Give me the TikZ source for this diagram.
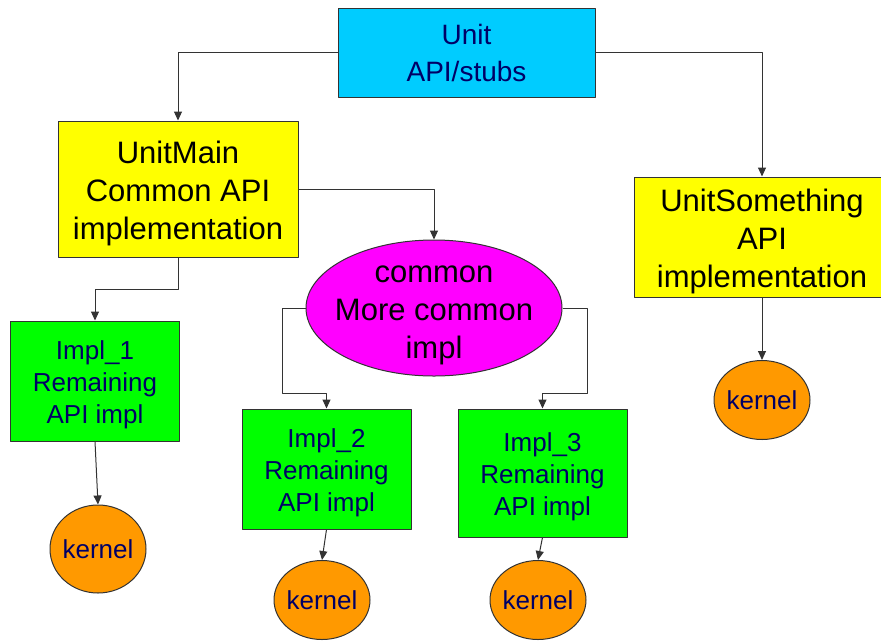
\documentclass[tikz,border=0pt]{standalone}
\usepackage{fontspec}
\setmainfont{Liberation Sans}
\usetikzlibrary{arrows.meta,shapes.geometric}
\definecolor{unitblue}{HTML}{00CCFF}
\definecolor{unityellow}{HTML}{FFFF00}
\definecolor{unitpink}{HTML}{FF00FF}
\definecolor{unitgreen}{HTML}{00FF00}
\definecolor{unitorange}{HTML}{FF9900}
\definecolor{unitnavy}{HTML}{000066}
\tikzset{
	box/.style={draw=black!80, line width=1pt, align=center, inner sep=0pt},
	txt/.style={align=center, inner sep=0pt},
	kern/.style={ellipse, draw=black!80, line width=1pt, fill=unitorange, text=unitnavy, inner xsep=-4pt, inner ysep=0pt, minimum width=96pt, font=\fontsize{26}{30}\selectfont},
	link/.style={draw=black!80, line width=1pt, ->},
}
\begin{document}
\begin{tikzpicture}[x=1pt,y=-1pt,>={Triangle[length=9pt,width=8pt]}, line join=round]
			\useasboundingbox (0,0) rectangle (881,641);
			\path
			(466.5,52.5)coordinate(U)
			(178,189)coordinate(UM)
			(762,237)coordinate(US)
			(434,308)coordinate(C)
			(95,381)coordinate(I1)
			(326.5,469)coordinate(I2)
			(542.5,473)coordinate(I3)
			;
			\node[box, fill=unitblue, text=unitnavy, minimum width=257pt, minimum height=89pt, font=\fontsize{28}{37}\selectfont] (unit) at (U) {Unit\\API/stubs};
			\node[box, fill=unityellow, minimum width=240pt, minimum height=136pt] (unitmain) at (UM) {};
			\node[txt, font=\fontsize{31}{38}\selectfont, yshift=-4pt] (unitmaintxt) at (unitmain) {UnitMain\\Common API\\implementation};
			\node[box, fill=unityellow, minimum width=256pt, minimum height=120pt] (unitsomething) at (US) {};
			\node[txt, font=\fontsize{31}{38}\selectfont, yshift=-4pt] (unitsomethingtxt) at (unitsomething) {UnitSomething\\API\\implementation};
			\node[ellipse, draw=black!80, line width=1pt, fill=unitpink, minimum width=256pt, minimum height=136pt] (common) at (C) {};
			\node[txt, font=\fontsize{31}{38}\selectfont, yshift=-7pt] (commontxt) at (common) {common\\More common\\impl};
			\foreach \n/\p/\h in {impl1/I1/120, impl2/I2/120, impl3/I3/128}
			\node[box, fill=unitgreen, minimum width=169pt, minimum height=\h pt] (\n) at (\p) {};
			\foreach \n/\t in {impl1/Impl\_1, impl2/Impl\_2, impl3/Impl\_3}
			\node[txt, text=unitnavy, font=\fontsize{26}{32}\selectfont, yshift=-4pt] (\n txt) at (\n) {\t\\Remaining\\API impl};
			\foreach \n/\x/\y/\h in {kernel1/98/549/88, kernel2/322/600/79, kernel3/538/600/79, kernel4/762/400/79}
			\node[kern, minimum height=\h pt] (\n) at (\x,\y) {kernel};
			% connectors
			\draw[link] (unit.west) -| (unitmain.north);
			\draw[link] (unit.east) -| (unitsomething.north);
			\draw[link] (unitmain.east) -| (common.north);
			\draw[link] (unitmain.south) -- ++(0,32) -| (impl1.north);
			\draw[link] (common.west) -- ++(-23,0) -- ++(0,85) -| (impl2.north);
			\draw[link] (common.east) -- ++(25,0) -- ++(0,85) -| (impl3.north);
			\draw[link] (impl1.south) -- (kernel1.north);
			\draw[link] (impl2.south) -- (kernel2.north);
			\draw[link] (impl3.south) -- (kernel3.north);
			\draw[link] (unitsomething.south) -- (kernel4.north);
			\end{tikzpicture}
\end{document}
